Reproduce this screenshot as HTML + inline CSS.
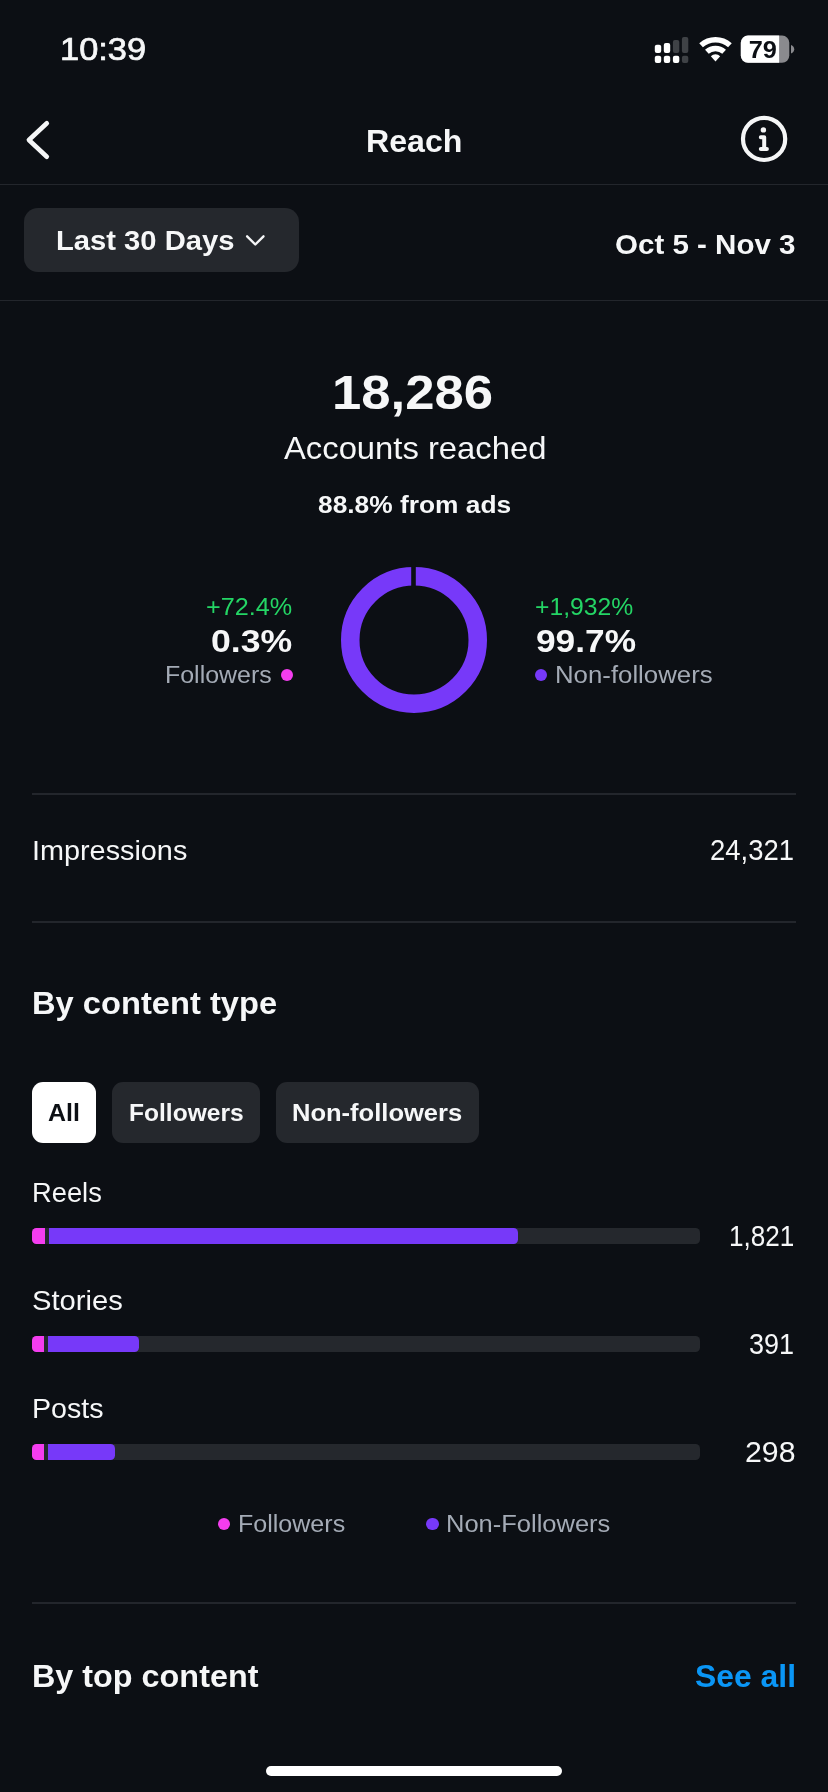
<!DOCTYPE html>
<html lang="en">
<head>
<meta charset="utf-8">
<meta name="viewport" content="width=828">
<title>Reach</title>
<style>
*{box-sizing:border-box;margin:0;padding:0}
html,body{width:828px;height:1792px;background:#0c0f14;overflow:hidden}
body{position:relative;font-family:"Liberation Sans",sans-serif;color:#f5f6f7}
.t{position:absolute;white-space:nowrap;line-height:1;will-change:transform}
.t span{display:inline-block;transform-origin:0 0}
.hr{position:absolute;left:32px;width:764px;height:2px;background:#23262c}
.dot{position:absolute;border-radius:50%}
.pink{background:#f43def}
.purple{background:#7739f9}
.chip{position:absolute;top:1082px;height:61px;border-radius:11px;background:#25282d}
.track{position:absolute;left:32px;width:668px;height:16px;border-radius:4.5px;background:#25282d;overflow:hidden}
.track i{position:absolute;top:0;height:16px;display:block}
.track .pk{left:0;background:#f43def}
.track .pp{background:#7739f9;border-radius:0 4.5px 4.5px 0}
svg{position:absolute;overflow:visible;will-change:transform}
</style>
</head>
<body>
<!-- status bar icons -->
<svg style="left:640px;top:28px" width="168" height="48" viewBox="0 0 168 48">
  <rect x="14.8" y="16.8" width="6.4" height="8.1" rx="2" fill="#fff"/>
  <rect x="23.8" y="14.9" width="6.4" height="10" rx="2" fill="#fff"/>
  <rect x="32.9" y="12" width="6.4" height="12.9" rx="2" fill="#3f4246"/>
  <rect x="41.9" y="9" width="6.4" height="15.9" rx="2" fill="#3f4246"/>
  <rect x="14.8" y="27.8" width="6.4" height="7.2" rx="2" fill="#fff"/>
  <rect x="23.8" y="27.8" width="6.4" height="7.2" rx="2" fill="#fff"/>
  <rect x="32.9" y="27.8" width="6.4" height="7.2" rx="2" fill="#fff"/>
  <rect x="41.9" y="27.8" width="6.4" height="7.2" rx="2" fill="#3f4246"/>
  <g fill="none" stroke="#fff" stroke-linecap="butt">
    <path d="M61.08 17.29 A21.55 21.55 0 0 1 89.92 17.29" stroke-width="5.5"/>
    <path d="M66.87 23.72 A12.9 12.9 0 0 1 84.13 23.72" stroke-width="5.5"/>
  </g>
  <path d="M75.5 33.5 L70.85 28.14 A6.95 6.95 0 0 1 80.15 28.14 Z" fill="#fff"/>
  <rect x="100.8" y="7.6" width="48.5" height="27.2" rx="7.2" fill="#8a8a8e"/>
  <path d="M108 7.6 H139.1 V34.8 H108 A7.2 7.2 0 0 1 100.8 27.6 V14.8 A7.2 7.2 0 0 1 108 7.6 Z" fill="#fff"/>
  <path d="M151 17.1 C153.2 18 154.2 19.5 154.2 21.35 C154.2 23.2 153.2 24.7 151 25.6 Z" fill="#8a8a8e"/>
  <text id="batt" x="108.7" y="30.2" font-family="Liberation Sans, sans-serif" font-weight="700" font-size="24.3" fill="#0c0f14" textLength="28.2" lengthAdjust="spacingAndGlyphs">79</text>
</svg>

<!-- header -->
<svg style="left:20px;top:116px" width="40" height="48" viewBox="0 0 40 48">
  <path d="M26.8 7.3 L8.9 24 L26.8 40.8" fill="none" stroke="#f5f6f7" stroke-width="4.6" stroke-linecap="round" stroke-linejoin="round"/>
</svg>
<svg style="left:736px;top:111px" width="56" height="56" viewBox="0 0 56 56">
  <circle cx="28.1" cy="27.9" r="21.1" fill="none" stroke="#f5f6f7" stroke-width="4.2"/>
  <circle cx="27.4" cy="18.9" r="2.7" fill="#f5f6f7"/>
  <path d="M24.8 26.35 H28.2 V38.1 M24.8 38.1 H30.9" fill="none" stroke="#f5f6f7" stroke-width="4" stroke-linecap="round" stroke-linejoin="round"/>
</svg>
<div class="hr" style="left:0;top:184px;width:828px;height:1px"></div>

<!-- filter row -->
<div style="position:absolute;left:24px;top:208px;width:275px;height:64px;border-radius:14px;background:#25282d"></div>
<svg style="left:242px;top:228px" width="28" height="24" viewBox="0 0 28 24">
  <path d="M5.1 8.3 L13.3 16.5 L21.5 8.3" fill="none" stroke="#f5f6f7" stroke-width="2.4" stroke-linecap="round" stroke-linejoin="round"/>
</svg>
<div class="hr" style="left:0;top:300px;width:828px;height:1px"></div>

<!-- donut -->
<svg style="left:334px;top:560px" width="160" height="160" viewBox="0 0 160 160">
  <circle cx="80" cy="80" r="63.75" fill="none" stroke="#7739f9" stroke-width="18.5"/>
  <rect x="77.2" y="0" width="4.6" height="30" fill="#0c0f14"/>
</svg>
<div class="dot pink" style="left:281px;top:668.7px;width:12.4px;height:12.4px"></div>
<div class="dot purple" style="left:534.8px;top:668.8px;width:12.5px;height:12.5px"></div>

<div class="hr" style="top:793px"></div>
<div class="hr" style="top:921px"></div>

<div class="chip" style="left:32px;width:64px;background:#fff"></div>
<div class="chip" style="left:112px;width:148px"></div>
<div class="chip" style="left:276px;width:203px"></div>

<div class="track" style="top:1228px"><i class="pk" style="width:13px"></i><i class="pp" style="left:17px;width:469px"></i></div>
<div class="track" style="top:1336px"><i class="pk" style="width:12px"></i><i class="pp" style="left:15.8px;width:91.2px"></i></div>
<div class="track" style="top:1444px"><i class="pk" style="width:12px"></i><i class="pp" style="left:15.8px;width:67.1px"></i></div>

<div class="dot pink" style="left:217.8px;top:1517.6px;width:12.5px;height:12.5px"></div>
<div class="dot purple" style="left:426.1px;top:1517.6px;width:12.5px;height:12.5px"></div>

<div class="hr" style="top:1602px"></div>

<div style="position:absolute;left:266px;top:1766px;width:296px;height:10px;border-radius:5px;background:#fff"></div>

<div class="t" id="time" style="left:60px;top:34px;font-size:30.6px;color:#f6f7f8;-webkit-text-stroke:0.7px #f6f7f8"><span style="transform:scaleX(1.1247)">10:39</span></div>
<div class="t" id="title" style="left:366px;top:125px;font-size:32.0px;color:#f6f7f8;font-weight:700"><span style="transform:scaleX(1.0040)">Reach</span></div>
<div class="t" id="last30" style="left:56px;top:226px;font-size:28.5px;color:#f6f7f8;font-weight:700"><span style="transform:scaleX(1.0240)">Last 30 Days</span></div>
<div class="t" id="dates" style="left:615px;top:230px;font-size:28.5px;color:#f6f7f8;font-weight:700"><span style="transform:scaleX(1.0359)">Oct 5 - Nov 3</span></div>
<div class="t" id="big" style="left:332px;top:368px;font-size:49.0px;color:#f6f7f8;font-weight:700"><span style="transform:scaleX(1.0745)">18,286</span></div>
<div class="t" id="acc" style="left:284px;top:432px;font-size:32.0px;color:#f6f7f8"><span style="transform:scaleX(1.0243)">Accounts reached</span></div>
<div class="t" id="ads" style="left:318px;top:493px;font-size:24.4px;color:#f6f7f8;font-weight:700"><span style="transform:scaleX(1.0792)">88.8% from ads</span></div>
<div class="t" id="g1" style="left:206px;top:595px;font-size:24.2px;color:#24d565"><span style="transform:scaleX(1.0423)">+72.4%</span></div>
<div class="t" id="p1" style="left:211px;top:625px;font-size:32.2px;color:#f6f7f8;font-weight:700"><span style="transform:scaleX(1.1078)">0.3%</span></div>
<div class="t" id="f1" style="left:165px;top:663px;font-size:24.4px;color:#a4abb6"><span style="transform:scaleX(1.0226)">Followers</span></div>
<div class="t" id="g2" style="left:535px;top:595px;font-size:24.2px;color:#24d565"><span style="transform:scaleX(1.0211)">+1,932%</span></div>
<div class="t" id="p2" style="left:536px;top:625px;font-size:32.2px;color:#f6f7f8;font-weight:700"><span style="transform:scaleX(1.0955)">99.7%</span></div>
<div class="t" id="f2" style="left:555px;top:663px;font-size:24.4px;color:#a4abb6"><span style="transform:scaleX(1.0571)">Non-followers</span></div>
<div class="t" id="imp" style="left:32px;top:836px;font-size:28.5px;color:#f6f7f8"><span style="transform:scaleX(1.0108)">Impressions</span></div>
<div class="t" id="impn" style="left:710px;top:836px;font-size:29.0px;color:#f6f7f8"><span style="transform:scaleX(0.9464)">24,321</span></div>
<div class="t" id="bct" style="left:32px;top:987px;font-size:32.0px;color:#f6f7f8;font-weight:700"><span style="transform:scaleX(1.0209)">By content type</span></div>
<div class="t" id="c1" style="left:48px;top:1101px;font-size:24.4px;color:#0c0f14;font-weight:700"><span style="transform:scaleX(1.0235)">All</span></div>
<div class="t" id="c2" style="left:129px;top:1101px;font-size:24.4px;color:#f6f7f8;font-weight:700"><span style="transform:scaleX(1.0065)">Followers</span></div>
<div class="t" id="c3" style="left:292px;top:1101px;font-size:24.4px;color:#f6f7f8;font-weight:700"><span style="transform:scaleX(1.0465)">Non-followers</span></div>
<div class="t" id="reels" style="left:32px;top:1178px;font-size:28.5px;color:#f6f7f8"><span style="transform:scaleX(0.9578)">Reels</span></div>
<div class="t" id="n1" style="left:729px;top:1222px;font-size:29.0px;color:#f6f7f8"><span style="transform:scaleX(0.9001)">1,821</span></div>
<div class="t" id="stories" style="left:32px;top:1286px;font-size:28.5px;color:#f6f7f8"><span style="transform:scaleX(1.0235)">Stories</span></div>
<div class="t" id="n2" style="left:749px;top:1330px;font-size:29.0px;color:#f6f7f8"><span style="transform:scaleX(0.9314)">391</span></div>
<div class="t" id="posts" style="left:32px;top:1394px;font-size:28.5px;color:#f6f7f8"><span style="transform:scaleX(1.0037)">Posts</span></div>
<div class="t" id="n3" style="left:745px;top:1438px;font-size:29.0px;color:#f6f7f8"><span style="transform:scaleX(1.0438)">298</span></div>
<div class="t" id="l1" style="left:238px;top:1512px;font-size:24.4px;color:#a4abb6"><span style="transform:scaleX(1.0267)">Followers</span></div>
<div class="t" id="l2" style="left:446px;top:1512px;font-size:24.4px;color:#a4abb6"><span style="transform:scaleX(1.0452)">Non-Followers</span></div>
<div class="t" id="btc" style="left:32px;top:1660px;font-size:32.0px;color:#f6f7f8;font-weight:700"><span style="transform:scaleX(1.0109)">By top content</span></div>
<div class="t" id="see" style="left:695px;top:1660px;font-size:32.0px;color:#0a96f6;font-weight:700"><span style="transform:scaleX(0.9960)">See all</span></div>
</body>
</html>
